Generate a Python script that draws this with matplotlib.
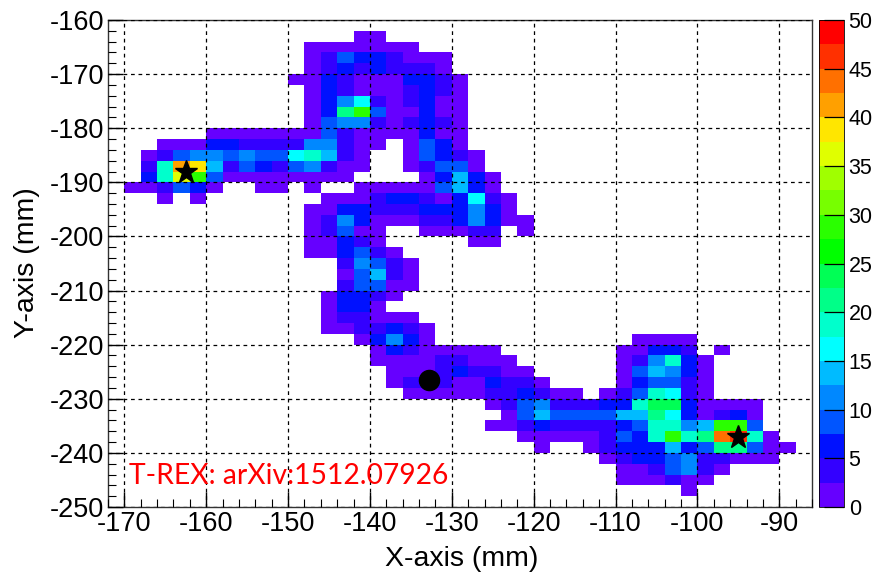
import numpy as np
import matplotlib
matplotlib.use('Agg')
import matplotlib.pyplot as plt
from matplotlib.colors import ListedColormap, BoundaryNorm

plt.rcParams['font.family'] = ['Liberation Sans', 'DejaVu Sans']
plt.rcParams['axes.unicode_minus'] = False

x_edges = np.arange(-172, -84, 2)
y_edges = np.arange(-160, -252, -2)

# first filled column of each row, rows go from the top of the plot down
row_start = [0, 15, 12, 12, 12, 11, 12, 12, 12, 12, 6, 3, 2, 2, 2, 1, 3, 12, 12, 12, 12, 12,
             14, 14, 14, 13, 13, 13, 13, 15, 16, 16, 17, 17, 18, 23, 24, 23, 25, 26, 30, 31, 31, 35]
row_counts = [
    [],
    [1, 1],
    [1, 1, 1, 1, 1, 1, 1],
    [1, 4, 9, 6, 6, 4, 1, 1, 1],
    [1, 4, 6, 4, 6, 4, 4, 4, 1],
    [1, 1, 6, 4, 1, 1, 1, 6, 6, 4, 1],
    [1, 6, 4, 1, 1, 1, 4, 6, 4, 1],
    [1, 6, 11, 16, 4, 1, 4, 6, 1, 1],
    [1, 6, 21, 29, 9, 1, 1, 6, 1, 1],
    [1, 9, 11, 11, 4, 1, 4, 6, 4, 1],
    [1, 1, 1, 1, 1, 1, 1, 9, 4, 1, 1, 1, 1, 6, 1, 1],
    [1, 1, 1, 6, 6, 4, 4, 4, 4, 11, 11, 4, 1, 1, 0, 1, 9, 6, 1],
    [1, 4, 9, 11, 11, 9, 11, 9, 9, 16, 19, 14, 4, 1, 0, 0, 1, 9, 6, 4, 1],
    [4, 19, 41, 39, 14, 4, 9, 6, 4, 9, 11, 4, 1, 1, 0, 0, 1, 4, 9, 9, 1],
    [6, 19, 36, 29, 9, 1, 1, 1, 1, 1, 1, 1, 1, 0, 0, 0, 0, 1, 6, 14, 6, 1],
    [1, 1, 4, 9, 6, 1, 0, 0, 1, 1, 0, 1, 0, 0, 1, 1, 1, 1, 1, 9, 14, 6, 1],
    [1, 0, 1, 0, 0, 0, 0, 0, 0, 0, 1, 1, 1, 4, 6, 6, 4, 1, 6, 16, 4, 1],
    [1, 1, 6, 6, 4, 4, 4, 6, 6, 6, 11, 6, 1],
    [1, 4, 11, 6, 1, 1, 1, 4, 4, 6, 11, 6, 1, 1],
    [1, 4, 9, 1, 1, 0, 0, 1, 1, 1, 4, 4, 0, 1],
    [1, 1, 6, 4, 1, 0, 0, 0, 0, 0, 1, 1],
    [1, 1, 6, 9, 4, 1],
    [4, 11, 9, 4, 1],
    [1, 9, 14, 4, 1],
    [4, 9, 9, 1, 1],
    [1, 6, 6, 4, 1],
    [1, 6, 6, 1],
    [1, 4, 4, 1, 1, 1],
    [1, 1, 4, 4, 6, 4, 1],
    [1, 6, 11, 6, 1, 0, 0, 0, 0, 0, 0, 0, 0, 0, 0, 0, 0, 1, 1, 1, 1],
    [1, 6, 4, 1, 1, 1, 1, 1, 0, 0, 0, 0, 0, 0, 0, 1, 1, 6, 6, 4, 0, 1],
    [1, 1, 1, 1, 4, 4, 1, 1, 1, 0, 0, 0, 0, 0, 0, 1, 4, 11, 19, 6, 1],
    [1, 1, 1, 4, 6, 4, 4, 1, 1, 0, 0, 0, 0, 0, 1, 9, 14, 11, 6, 1],
    [1, 4, 4, 4, 1, 1, 6, 4, 4, 1, 0, 0, 0, 0, 1, 6, 9, 9, 4, 1],
    [1, 1, 1, 1, 1, 4, 4, 6, 4, 1, 1, 0, 1, 4, 9, 19, 16, 4, 1],
    [1, 4, 9, 11, 4, 4, 4, 6, 6, 19, 24, 24, 6, 1, 1, 1, 1],
    [1, 9, 14, 9, 9, 9, 9, 14, 14, 21, 16, 6, 1, 4, 6, 1],
    [1, 1, 4, 6, 4, 4, 4, 4, 6, 9, 19, 19, 11, 14, 29, 29, 9],
    [1, 1, 1, 1, 1, 4, 9, 6, 19, 29, 19, 21, 44, 46, 19, 1],
    [1, 0, 0, 1, 4, 6, 6, 6, 14, 6, 9, 21, 21, 9, 1, 1],
    [1, 4, 6, 6, 9, 11, 4, 4, 1, 1, 1],
    [1, 1, 4, 9, 11, 4, 1],
    [1, 1, 1, 4, 1, 1],
    [1],
]

level_colors = ['#6600ff', '#3300ff', '#0011ff', '#0055ff', '#0088ff', '#00bbff', '#00ffff',
                '#00ffcc', '#00ff88', '#00ff55', '#00ff00', '#2aff00', '#77ff00', '#a0ff00',
                '#e0ff00', '#ffe600', '#ffa000', '#ff7000', '#ff3000', '#ff0000']
levels = np.arange(0, 52.5, 2.5)
x_ticks = np.arange(-170, -80, 10)
y_ticks = np.arange(-250, -150, 10)
z_ticks = np.arange(0, 55, 5)

star_x = [-162.5, -95]
star_y = [-188, -237]
source_x = [-132.8]
source_y = [-226.6]


def main():
	grid = np.zeros((len(y_edges) - 1, len(x_edges) - 1))
	for r, (start, vals) in enumerate(zip(row_start, row_counts)):
		grid[r, start:start + len(vals)] = vals
	grid = np.ma.masked_equal(grid, 0)

	cmap = ListedColormap(level_colors)
	norm = BoundaryNorm(levels, cmap.N)

	fig = plt.figure(figsize=(8.76, 5.74), dpi=100)
	ax = fig.add_axes([108 / 876, 1 - 507 / 574, 704 / 876, 487 / 574])
	mesh = ax.pcolormesh(x_edges, y_edges, grid, cmap=cmap, norm=norm)
	ax.set_xlim(-172, -86)
	ax.set_ylim(-250, -160)

	ax.set_xticks(x_ticks)
	ax.set_yticks(y_ticks)
	ax.set_xticks(np.arange(-172, -85, 2), minor=True)
	ax.set_yticks(np.arange(-250, -159, 2), minor=True)
	ax.tick_params(which='major', direction='in', length=11, width=1, labelsize=19.5, pad=3)
	ax.tick_params(which='minor', direction='in', length=5.5, width=0.8)
	ax.set_axisbelow(False)
	ax.grid(True, which='major', color='black', linestyle='--', linewidth=0.9, dashes=(3, 3))
	for spine in ax.spines.values():
		spine.set_linewidth(1)
		spine.set_color('#333333')

	fig.text(462 / 876, 1 - 559 / 574, 'X-axis (mm)', fontsize=20.5, ha='center', va='center')
	fig.text(27 / 876, 1 - 263 / 574, 'Y-axis (mm)', fontsize=20.5, ha='center', va='center', rotation=90)

	ax.plot(star_x, star_y, linestyle='none', marker='*', markersize=17, color='black', zorder=5)
	ax.plot(source_x, source_y, linestyle='none', marker='o', markersize=14.5, color='black', zorder=5)
	ax.text(-169.4, -244.3, 'T-REX: arXiv:1512.07926', color='red', fontsize=20.3,
		family=['Lato', 'DejaVu Sans'], va='center', ha='left', zorder=6)

	cax = fig.add_axes([819 / 876, 1 - 507 / 574, 25.5 / 876, 487 / 574])
	cbar = fig.colorbar(mesh, cax=cax, spacing='proportional', ticks=z_ticks)
	cbar.ax.minorticks_off()
	cbar.ax.tick_params(direction='in', length=14.5, width=0.9, labelsize=15.5, pad=3, right=True)
	cbar.ax.set_yticklabels([str(z) for z in z_ticks])
	cbar.outline.set_linewidth(0.6)

	plt.savefig('out.png', dpi=100)


if __name__ == '__main__':
	main()
